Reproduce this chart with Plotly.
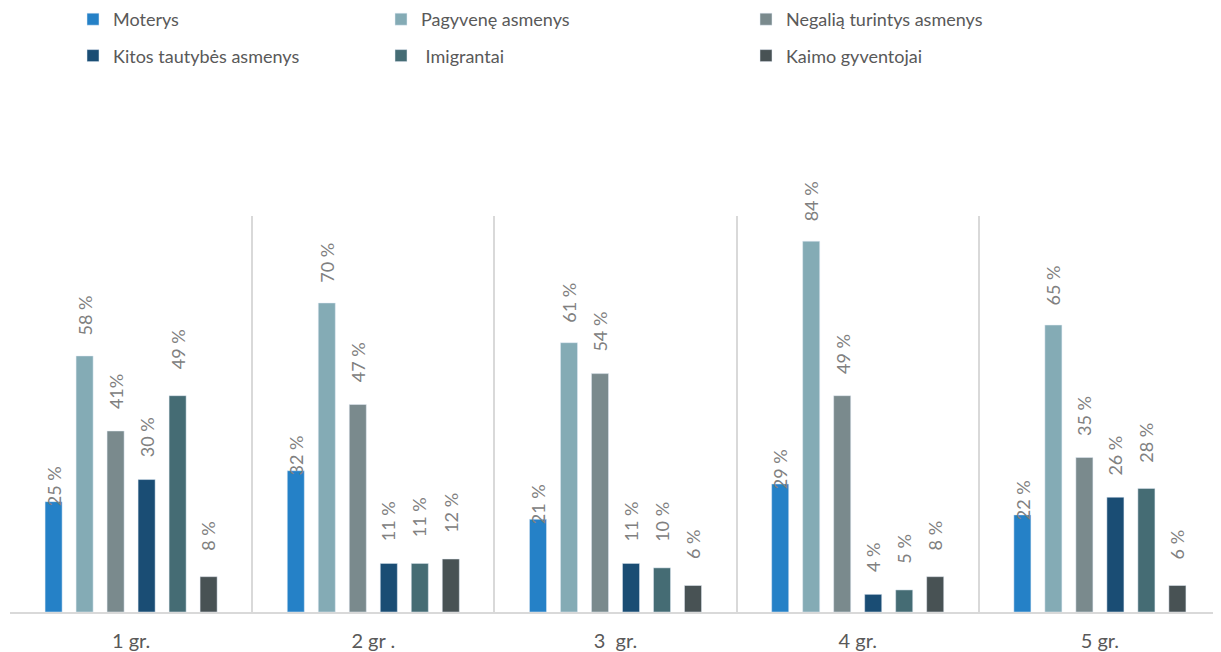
import plotly.graph_objects as go

groups = ["1 gr.", "2 gr .", "3\u00a0 gr.", "4 gr.", "5 gr."]
series_names = ["Moterys", "Pagyvenę asmenys", "Negalią turintys asmenys",
                "Kitos tautybės asmenys", " Imigrantai", "Kaimo gyventojai"]
moterys = [25, 32, 21, 29, 22]
pagyvene = [58, 70, 61, 84, 65]
negalia = [41, 47, 54, 49, 35]
kitos = [30, 11, 11, 4, 26]
imigrantai = [49, 11, 10, 5, 28]
kaimo = [8, 12, 6, 8, 6]
labels_moterys = ["25 %", "32 %", "21 %", "29 %", "22 %"]
labels_pagyvene = ["58 %", "70 %", "61 %", "84 %", "65 %"]
labels_negalia = ["41%", "47 %", "54 %", "49 %", "35 %"]
labels_kitos = ["30 %", "11 %", "11 %", "4 %", "26 %"]
labels_imigrantai = ["49 %", "11 %", "10 %", "5 %", "28 %"]
labels_kaimo = ["8 %", "12 %", "6 %", "8 %", "6 %"]

values = [moterys, pagyvene, negalia, kitos, imigrantai, kaimo]
labels = [labels_moterys, labels_pagyvene, labels_negalia, labels_kitos,
          labels_imigrantai, labels_kaimo]
colors = ["#2581C7", "#84ABB5", "#7A8A8D", "#1A4D74", "#456C74", "#485254"]
label_gap = [-7, 18, 20, 20, 24, 24]
legend_ids = ["legend", "legend2", "legend3", "legend", "legend2", "legend3"]

# page body has an 8px margin; figure is sized to fit the 1221x652 window
OFF = 8
W, H = 1221 - OFF, 652 - OFF
ml, mr, mt, mb = 10 - OFF, 0, 216 - OFF, 652 - 612
ymax = 89.7
plot_h = H - mt - mb

fig = go.Figure()
for i, (name, vals, col) in enumerate(zip(series_names, values, colors)):
    fig.add_trace(go.Bar(
        x=groups, y=vals, name=name, marker_color=col,
        legend=legend_ids[i], legendgroup=name,
        hoverinfo="skip",
    ))

# data labels
plot_w = W - ml - mr
group_px = plot_w / len(groups)
bargap, bargroupgap = 0.232, 0.45
slot = group_px * (1 - bargap) / len(series_names)
for i in range(len(series_names)):
    xshift = (i - (len(series_names) - 1) / 2) * slot
    for j, g in enumerate(groups):
        fig.add_annotation(
            x=g, y=values[i][j], xref="x", yref="y",
            text=labels[i][j], showarrow=False, textangle=-90,
            xanchor="center", yanchor="bottom",
            xshift=xshift, yshift=label_gap[i],
            font=dict(family="Lato", size=18, color="#808080"),
        )

leg_common = dict(
    orientation="v", xref="container", yref="paper",
    xanchor="left", yanchor="top", y=(H - mb + 7) / plot_h,
    font=dict(family="Lato", size=18, color="#595959"),
    bgcolor="rgba(0,0,0,0)", traceorder="grouped", tracegroupgap=10,
    itemclick=False, itemdoubleclick=False,
)
fig.update_layout(
    width=W, height=H,
    margin=dict(l=ml, r=mr, t=mt, b=mb, autoexpand=False),
    paper_bgcolor="white", plot_bgcolor="white",
    barmode="group", bargap=bargap, bargroupgap=bargroupgap,
    showlegend=True,
    legend=dict(leg_common, x=(73 - OFF) / W),
    legend2=dict(leg_common, x=(381 - OFF) / W),
    legend3=dict(leg_common, x=(746 - OFF) / W),
    xaxis=dict(
        type="category", tickson="boundaries", showgrid=True,
        gridcolor="#D9D9D9", gridwidth=1.5,
        showline=True, linecolor="#D9D9D9", linewidth=1.5,
        ticks="", ticklabelstandoff=10,
        tickangle=0, automargin=False,
        tickfont=dict(family="Lato", size=20, color="#595959"),
        fixedrange=True,
    ),
    yaxis=dict(range=[0, ymax], visible=False, showgrid=False,
               zeroline=False, fixedrange=True, automargin=False),
)

fig.write_html("out.html")
